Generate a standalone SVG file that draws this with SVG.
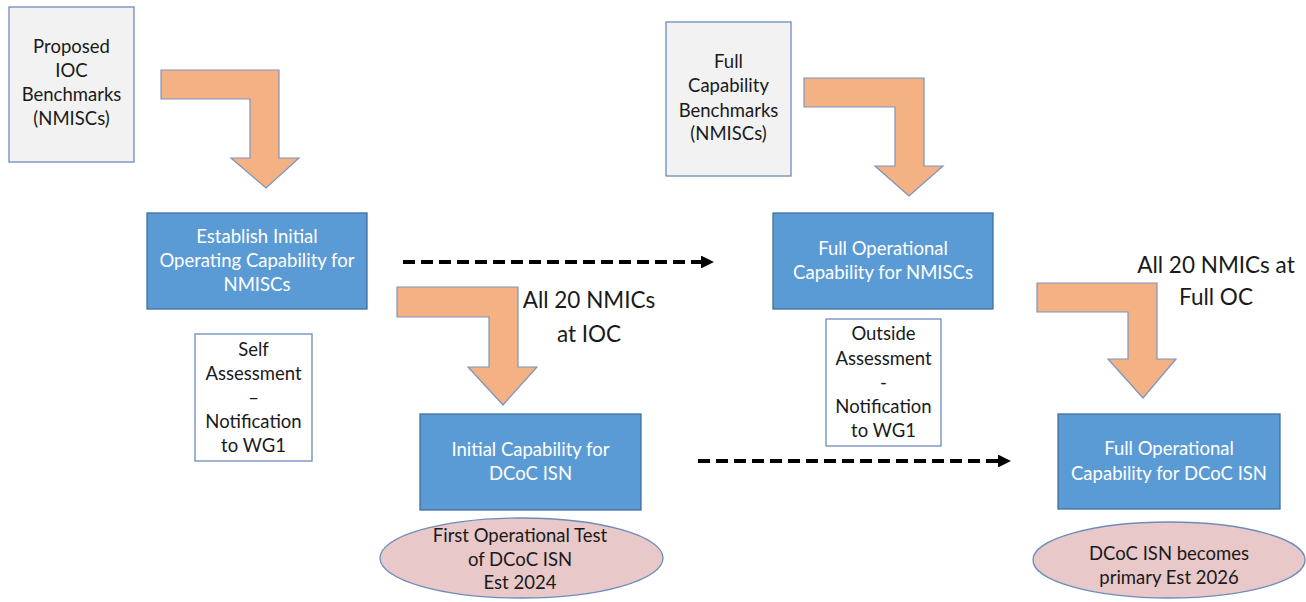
<svg xmlns="http://www.w3.org/2000/svg" width="1306" height="602" viewBox="0 0 1306 602">
<style>
.t{font-family:Lato,"Liberation Sans",sans-serif;font-size:18.5px;fill:#1a1a1a;text-anchor:middle}
.w{fill:#ffffff}
.big{font-size:22.5px}
.gray{fill:#f2f2f2;stroke:#6d8cba;stroke-width:1.3}
.white{fill:#ffffff;stroke:#6d8cba;stroke-width:1.3}
.blue{fill:#5b9bd5;stroke:#41719c;stroke-width:1.3}
.ell{fill:#e8c8c8;stroke:#6d8cba;stroke-width:1.3}
.bent{fill:#f4b183;stroke:#7d93bf;stroke-width:1.2}
.dash{stroke:#000;stroke-width:3.8;stroke-dasharray:12 6;fill:none}
</style>
<defs>
<marker id="ah" viewBox="0 0 10 10" refX="0" refY="5" markerWidth="3.4" markerHeight="3.4" markerUnits="strokeWidth" orient="auto">
<path d="M0,0 L10,5 L0,10 Z" fill="#000"/>
</marker>
</defs>
<rect width="1306" height="602" fill="#ffffff"/>

<g id="connectors">
<path id="bent1" class="bent" d="M161,70 L279,70 L279,158 L299,158 L266,188 L231,158 L250,158 L250,99 L161,99 Z"/>
<path id="bent2" class="bent" d="M397,287 L518,287 L518,367 L537,367 L503,405 L468,367 L489,367 L489,317 L397,317 Z"/>
<path id="bent3" class="bent" d="M804,78 L924,78 L924,166 L943,166 L909,196 L875,166 L895,166 L895,107 L804,107 Z"/>
<path id="bent4" class="bent" d="M1037,283 L1157,283 L1157,359 L1176,359 L1143,398 L1108,359 L1128,359 L1128,312 L1037,312 Z"/>
<path id="dash1" class="dash" d="M403,262 L701,262" marker-end="url(#ah)"/>
<path id="dash2" class="dash" d="M698,461 L998,461" marker-end="url(#ah)"/>
</g>

<g id="n-proposed">
<rect class="gray" x="9" y="7" width="125" height="155"/>
<text class="t" x="71.5" y="53">Proposed</text>
<text class="t" x="71.5" y="77">IOC</text>
<text class="t" x="71.5" y="101">Benchmarks</text>
<text class="t" x="71.5" y="125">(NMISCs)</text>
</g>

<g id="n-establish">
<rect class="blue" x="147" y="213" width="220" height="96"/>
<text class="t w" x="257" y="243">Establish Initial</text>
<text class="t w" x="257" y="267">Operating Capability for</text>
<text class="t w" x="257" y="291">NMISCs</text>
</g>

<g id="n-self">
<rect class="white" x="195" y="334" width="117" height="127"/>
<text class="t" x="253.5" y="356">Self</text>
<text class="t" x="253.5" y="380">Assessment</text>
<text class="t" x="253.5" y="404">–</text>
<text class="t" x="253.5" y="428">Notification</text>
<text class="t" x="253.5" y="452">to WG1</text>
</g>

<g id="l-ioc">
<text class="t big" x="589" y="308">All 20 NMICs</text>
<text class="t big" x="589" y="342">at IOC</text>
</g>

<g id="n-initial">
<rect class="blue" x="420" y="414" width="221" height="96"/>
<text class="t w" x="530.5" y="456">Initial Capability for</text>
<text class="t w" x="530.5" y="480">DCoC ISN</text>
</g>

<g id="n-firsttest">
<ellipse class="ell" cx="521.5" cy="558" rx="141.5" ry="40"/>
<text class="t" x="520" y="542">First Operational Test</text>
<text class="t" x="520" y="566">of DCoC ISN</text>
<text class="t" x="520" y="589">Est 2024</text>
</g>

<g id="n-fullbench">
<rect class="gray" x="666" y="22" width="125" height="154"/>
<text class="t" x="728.5" y="68">Full</text>
<text class="t" x="728.5" y="92">Capability</text>
<text class="t" x="728.5" y="117">Benchmarks</text>
<text class="t" x="728.5" y="140">(NMISCs)</text>
</g>

<g id="n-fullnmisc">
<rect class="blue" x="773" y="213" width="220" height="96"/>
<text class="t w" x="883" y="255">Full Operational</text>
<text class="t w" x="883" y="279">Capability for NMISCs</text>
</g>

<g id="n-outside">
<rect class="white" x="826" y="319" width="115" height="127"/>
<text class="t" x="883.5" y="340">Outside</text>
<text class="t" x="883.5" y="365">Assessment</text>
<text class="t" x="883.5" y="389">-</text>
<text class="t" x="883.5" y="413">Notification</text>
<text class="t" x="883.5" y="437">to WG1</text>
</g>

<g id="l-fulloc">
<text class="t big" x="1216" y="273">All 20 NMICs at</text>
<text class="t big" x="1216" y="305">Full OC</text>
</g>

<g id="n-fulldcoc">
<rect class="blue" x="1058" y="414" width="222" height="95"/>
<text class="t w" x="1169" y="455">Full Operational</text>
<text class="t w" x="1169" y="480">Capability for DCoC ISN</text>
</g>

<g id="n-primary">
<ellipse class="ell" cx="1169" cy="560" rx="136" ry="38"/>
<text class="t" x="1169" y="560">DCoC ISN becomes</text>
<text class="t" x="1169" y="584">primary Est 2026</text>
</g>
</svg>
